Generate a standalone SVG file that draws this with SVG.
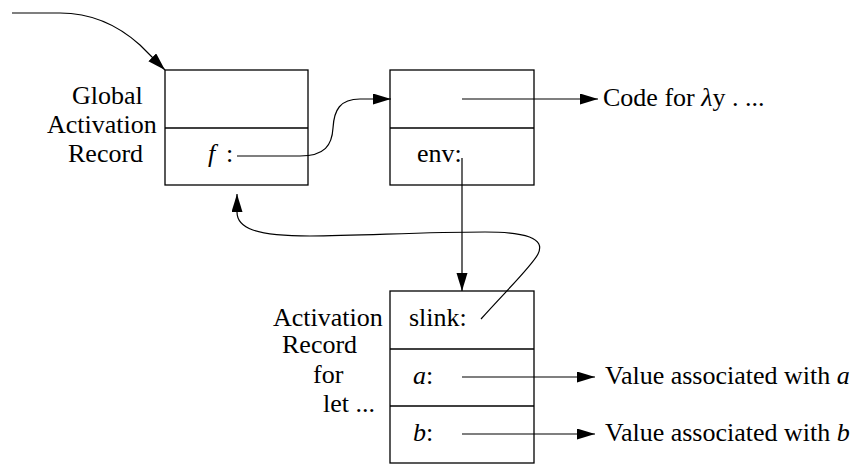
<svg xmlns="http://www.w3.org/2000/svg" width="859" height="464" viewBox="0 0 859 464">
<style>
  text { font-family: "Liberation Serif", "Times New Roman", serif; font-size: 26px; fill: #000; }
  .box { fill: #fff; stroke: #000; stroke-width: 1.3; }
  .div { stroke: #000; stroke-width: 1.3; fill: none; }
  .conn { fill: none; stroke: #000; stroke-width: 1.2; marker-end: url(#arrow); }
  .it { font-style: italic; }
</style>
<defs>
  <marker id="arrow" markerUnits="userSpaceOnUse" markerWidth="19" markerHeight="12" refX="18" refY="5.5" orient="auto">
    <path d="M0,0 L18,5.5 L0,11 z" fill="#000"/>
  </marker>
</defs>
<rect width="859" height="464" fill="#fff"/>

<g id="global-record">
  <rect class="box" x="165" y="70" width="143" height="115"/>
  <line class="div" x1="165" y1="128" x2="308" y2="128"/>
  <text x="72" y="104">Global</text>
  <text x="47" y="133">Activation</text>
  <text x="68" y="162">Record</text>
  <text x="208" y="162"><tspan class="it">f</tspan><tspan x="226">:</tspan></text>
</g>

<g id="closure">
  <rect class="box" x="390" y="70" width="144" height="115"/>
  <line class="div" x1="390" y1="128" x2="534" y2="128"/>
  <text x="417" y="162">env:</text>
</g>

<g id="code-label">
  <text x="603" y="106">Code for <tspan class="it">λ</tspan>y . ...</text>
</g>

<g id="let-record">
  <rect class="box" x="390" y="291" width="144" height="172"/>
  <line class="div" x1="390" y1="349" x2="534" y2="349"/>
  <line class="div" x1="390" y1="406" x2="534" y2="406"/>
  <text x="273" y="326">Activation</text>
  <text x="282" y="353">Record</text>
  <text x="313" y="383">for</text>
  <text x="323" y="412">let ...</text>
  <text x="409" y="326">slink:</text>
  <text x="413" y="384"><tspan class="it">a</tspan>:</text>
  <text x="413" y="441"><tspan class="it">b</tspan>:</text>
</g>

<g id="value-a">
  <text x="605" y="384">Value associated with <tspan class="it">a</tspan></text>
</g>
<g id="value-b">
  <text x="605" y="441">Value associated with <tspan class="it">b</tspan></text>
</g>

<g id="connectors">
  <path class="conn" d="M12,13 L60,13 C95,13 120,27 140,45 L165,70"/>
  <path class="conn" d="M237,156 L300,156 C325,156 332,145 333,128 C334,110 340,99 360,99 L391,99"/>
  <path class="conn" d="M462,99 L598,99"/>
  <path class="conn" d="M462,158 L462,291"/>
  <path class="conn" d="M481,319 C505,292 532,266 538,254 C546,238 525,232 485,232 C420,232 360,236 310,236 C255,236 237,228 237,212 L237,194"/>
  <path class="conn" d="M462,377 L595,377"/>
  <path class="conn" d="M462,434 L595,434"/>
</g>
</svg>
